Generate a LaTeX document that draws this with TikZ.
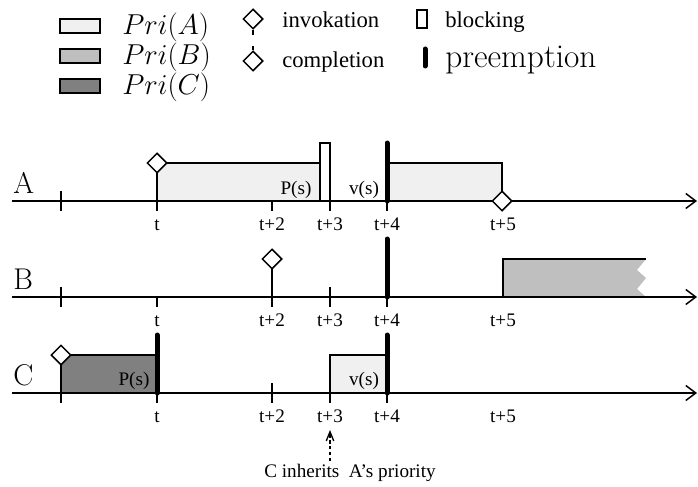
\documentclass[tikz,border=0pt]{standalone}
\usepackage{fontspec}
\newfontfamily\tms{Liberation Serif}
\usetikzlibrary{shapes.geometric,arrows.meta}
\definecolor{priA}{gray}{0.94}
\definecolor{priB}{gray}{0.75}
\definecolor{priC}{gray}{0.5}

\tikzset{
  axis/.style={line width=0.9pt,-{Straight Barb[length=6pt,width=9pt,line width=0.9pt]}},
  tick/.style={line width=0.9pt},
  job/.style={line width=0.9pt},
  preempt/.style={line width=3pt,line cap=round},
  ev/.style={draw,diamond,fill=white,line width=0.9pt,inner sep=0pt,minimum size=12pt},
  lbl/.style={font=\tms\fontsize{11.5}{13}\selectfont,inner sep=0pt,anchor=base},
  leg/.style={font=\tms\fontsize{13.6}{15}\selectfont,inner sep=0pt,anchor=base west},
  row/.style={font=\fontsize{18}{21}\selectfont,inner sep=0pt,anchor=base west},
  inherit/.style={line width=0.8pt,dash pattern=on 2pt off 1.5pt,-{Straight Barb[length=5.5pt,width=4.5pt,line width=0.8pt]}}
}

\begin{document}
\begin{tikzpicture}[x=0.6pt,y=-0.6pt]
  \useasboundingbox (0,0) rectangle (698,487);
  % legend
  \draw[job,fill=priA] (60,19) rectangle (100,33);
  \draw[job,fill=priB] (60,49) rectangle (100,63);
  \draw[job,fill=priC] (60,79) rectangle (100,93);
  \node[row,font=\fontsize{19}{22}\selectfont] (pa) at (122,35) {$Pri(A)$};
  \node[row,font=\fontsize{19}{22}\selectfont] (pb) at (122,65) {$Pri(B)$};
  \node[row,font=\fontsize{19}{22}\selectfont] (pc) at (122,95) {$Pri(C)$};
  \node[ev] (linv) at (253,19) {};
  \coordinate (linvs) at (253,35);
  \draw[tick] (linv) -- (linvs);
  \node[ev] (lcmp) at (253,61) {};
  \coordinate (lcmpn) at (253,46);
  \draw[tick] (lcmpn) -- (lcmp);
  \node[leg] (tinv) at (282,28) {invokation};
  \node[leg] (tcmp) at (282,68) {completion};
  \draw[job] (417,10) rectangle (427,28);
  \node[leg] (tblk) at (445,28) {blocking};
  \draw[preempt] (425,49) -- (425,66);
  \node[row,font=\fontsize{20}{23}\selectfont] (tpre) at (445,68) {preemption};

  % row A
  \begin{scope}[shift={(0,201)}]
    \fill[priA] (157,0) rectangle (320,-38);
    \fill[priA] (387,0) rectangle (502,-38);
    \draw[axis] (12,0) -- (697,0);
    \draw[tick] (61,-10) -- (61,10);
    \draw[tick] (157,0) -- (157,10);
    \draw[tick] (272,0) -- (272,10);
    \draw[tick] (330,0) -- (330,10);
    \draw[tick] (387,0) -- (387,10);
    \draw[job] (157,0) -- (157,-38) -- (320,-38);
    \draw[job,fill=white] (320,0) rectangle (330,-58);
    \draw[job] (387,-38) -- (502,-38) -- (502,0);
    \draw[preempt] (387,0) -- (387,-58);
    \node[ev] (ainv) at (157,-38) {};
    \node[ev] (acmp) at (502,0) {};
    \node[row] (la) at (13,-8) {A};
    \node[lbl] (aps) at (296,-7) {P(s)};
    \node[lbl] (avs) at (364,-7) {v(s)};
    \node[lbl] (a0) at (157,29) {t};
    \node[lbl] (a2) at (272,29) {t+2};
    \node[lbl] (a3) at (330,29) {t+3};
    \node[lbl] (a4) at (387,29) {t+4};
    \node[lbl] (a5) at (503,29) {t+5};
  \end{scope}

  % row B
  \begin{scope}[shift={(0,297)}]
    \fill[priB] (503,0) -- (503,-38) -- (646,-38) -- (637,-27) -- (646,-19)
      -- (637,-8) -- (646,0) -- cycle;
    \draw[axis] (12,0) -- (697,0);
    \draw[tick] (61,-10) -- (61,10);
    \draw[tick] (157,0) -- (157,10);
    \draw[tick] (272,-30) -- (272,10);
    \draw[tick] (330,-10) -- (330,10);
    \draw[tick] (387,0) -- (387,10);
    \draw[job] (503,0) -- (503,-38) -- (646,-38);
    \draw[preempt] (387,0) -- (387,-58);
    \node[ev] (binv) at (272,-38) {};
    \node[row] (lb) at (13,-8) {B};
    \node[lbl] (b0) at (157,29) {t};
    \node[lbl] (b2) at (272,29) {t+2};
    \node[lbl] (b3) at (330,29) {t+3};
    \node[lbl] (b4) at (387,29) {t+4};
    \node[lbl] (b5) at (503,29) {t+5};
  \end{scope}

  % row C
  \begin{scope}[shift={(0,393)}]
    \fill[priC] (61,0) rectangle (157,-38);
    \fill[priA] (330,0) rectangle (387,-38);
    \draw[axis] (12,0) -- (697,0);
    \draw[tick] (61,0) -- (61,10);
    \draw[tick] (157,0) -- (157,10);
    \draw[tick] (272,-10) -- (272,10);
    \draw[tick] (330,0) -- (330,10);
    \draw[tick] (387,0) -- (387,10);
    \draw[job] (61,0) -- (61,-38) -- (157,-38);
    \draw[job] (330,0) -- (330,-38) -- (387,-38);
    \draw[preempt] (157,0) -- (157,-58);
    \draw[preempt] (387,0) -- (387,-58);
    \node[ev] (cinv) at (61,-38) {};
    \node[row] (lc) at (13,-8) {C};
    \node[lbl] (cps) at (134,-8) {P(s)};
    \node[lbl] (cvs) at (364,-8) {v(s)};
    \node[lbl] (c0) at (157,29) {t};
    \node[lbl] (c2) at (272,29) {t+2};
    \node[lbl] (c3) at (330,29) {t+3};
    \node[lbl] (c4) at (387,29) {t+4};
    \node[lbl] (c5) at (503,29) {t+5};
  \end{scope}

  % inheritance note
  \node[lbl] (inh) at (350,477) {C inherits\ \ A’s priority};
  \coordinate (inhtail) at (330,461);
  \coordinate (inhtip) at (330,430);
  \draw[inherit] (inhtail) -- (inhtip);
\end{tikzpicture}
\end{document}
